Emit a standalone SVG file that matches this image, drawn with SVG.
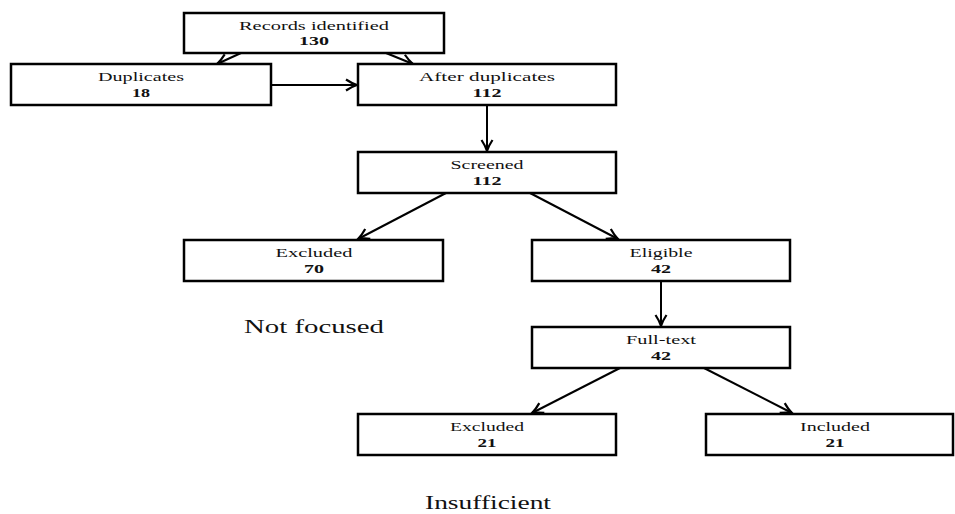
<svg xmlns="http://www.w3.org/2000/svg" width="955" height="514" viewBox="0 0 955 514">
<defs>
<style>
.box{fill:#fff;stroke:#000;stroke-width:2.5}
.lbl{font-family:"Liberation Serif","Times New Roman",serif;font-size:13px;text-anchor:middle;fill:#111}
.num{font-family:"Liberation Serif","Times New Roman",serif;font-size:13.5px;font-weight:bold;text-anchor:middle;fill:#111}
.note{font-family:"Liberation Serif","Times New Roman",serif;font-size:19px;fill:#111}
.edge{stroke:#000;stroke-width:2;fill:none;marker-end:url(#arr)}
</style>
<marker id="arr" markerUnits="userSpaceOnUse" markerWidth="16" markerHeight="14" refX="0" refY="0" viewBox="-13 -7 16 14" orient="auto">
<path d="M -11 -5.5 Q -5 -1.5 0 0 Q -5 1.5 -11 5.5" stroke="#000" stroke-width="2.2" fill="none"/>
</marker>
</defs>
<rect width="955" height="514" fill="#fff"/>
<g id="connectors">
<line class="edge" x1="241" y1="53" x2="217" y2="64"/>
<line class="edge" x1="386" y1="53" x2="413" y2="64"/>
<line class="edge" x1="271" y1="85" x2="357" y2="85"/>
<line class="edge" x1="487" y1="105" x2="487" y2="151"/>
<line class="edge" x1="446" y1="193" x2="358" y2="239"/>
<line class="edge" x1="530" y1="193" x2="618" y2="239"/>
<line class="edge" x1="661" y1="281" x2="661" y2="326"/>
<line class="edge" x1="620" y1="368" x2="532" y2="413"/>
<line class="edge" x1="704" y1="368" x2="792" y2="413"/>
</g>
<g id="records">
<rect class="box" x="184" y="13" width="260" height="40"/>
<text class="lbl" x="314" y="30" textLength="150" lengthAdjust="spacingAndGlyphs">Records identified</text>
<text class="num" x="314" y="45" textLength="30" lengthAdjust="spacingAndGlyphs">130</text>
</g>
<g id="duplicates">
<rect class="box" x="11" y="64" width="260" height="41"/>
<text class="lbl" x="141" y="81" textLength="86" lengthAdjust="spacingAndGlyphs">Duplicates</text>
<text class="num" x="141" y="97" textLength="18" lengthAdjust="spacingAndGlyphs">18</text>
</g>
<g id="after">
<rect class="box" x="358" y="64" width="258" height="41"/>
<text class="lbl" x="487" y="81" textLength="136" lengthAdjust="spacingAndGlyphs">After duplicates</text>
<text class="num" x="487" y="97" textLength="29" lengthAdjust="spacingAndGlyphs">112</text>
</g>
<g id="screened">
<rect class="box" x="358" y="152" width="258" height="41"/>
<text class="lbl" x="487" y="169" textLength="73" lengthAdjust="spacingAndGlyphs">Screened</text>
<text class="num" x="487" y="185" textLength="29" lengthAdjust="spacingAndGlyphs">112</text>
</g>
<g id="excluded70">
<rect class="box" x="184" y="240" width="259" height="41"/>
<text class="lbl" x="314" y="257" textLength="77" lengthAdjust="spacingAndGlyphs">Excluded</text>
<text class="num" x="314" y="273" textLength="20" lengthAdjust="spacingAndGlyphs">70</text>
</g>
<g id="eligible">
<rect class="box" x="532" y="240" width="258" height="41"/>
<text class="lbl" x="661" y="257" textLength="63" lengthAdjust="spacingAndGlyphs">Eligible</text>
<text class="num" x="661" y="273" textLength="20" lengthAdjust="spacingAndGlyphs">42</text>
</g>
<g id="fulltext">
<rect class="box" x="532" y="327" width="258" height="41"/>
<text class="lbl" x="661" y="344" textLength="70" lengthAdjust="spacingAndGlyphs">Full-text</text>
<text class="num" x="661" y="360" textLength="20" lengthAdjust="spacingAndGlyphs">42</text>
</g>
<g id="excluded21">
<rect class="box" x="358" y="414" width="258" height="41"/>
<text class="lbl" x="487" y="431" textLength="74" lengthAdjust="spacingAndGlyphs">Excluded</text>
<text class="num" x="487" y="447" textLength="19" lengthAdjust="spacingAndGlyphs">21</text>
</g>
<g id="included">
<rect class="box" x="706" y="414" width="247" height="41"/>
<text class="lbl" x="835" y="431" textLength="70" lengthAdjust="spacingAndGlyphs">Included</text>
<text class="num" x="835" y="447" textLength="19" lengthAdjust="spacingAndGlyphs">21</text>
</g>
<g id="notes">
<text class="note" x="244" y="333" textLength="140" lengthAdjust="spacingAndGlyphs">Not focused</text>
<text class="note" x="425" y="509" textLength="126" lengthAdjust="spacingAndGlyphs">Insufficient</text>
</g>
</svg>
